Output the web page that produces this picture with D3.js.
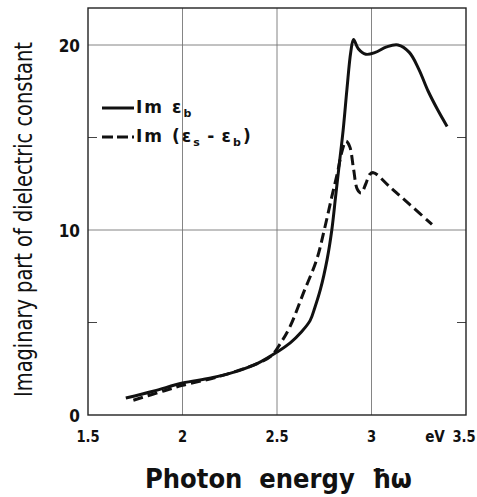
<!DOCTYPE html>
<html>
<head>
<meta charset="utf-8">
<script src="https://cdn.jsdelivr.net/npm/d3@7"></script>
<style>
  body { margin: 0; background: #fff; }
</style>
</head>
<body>
<div class="chart"></div>
<script>
// tick labels
let xTicks = [1.5, 2, 2.5, 3, 3.5]
let yTicks = [0, 10, 20]
let yMinor = [5, 15]
let xGrid = [2, 2.5, 3]
let yGrid = [10, 20]

// Im eps_b (solid)
let solidX = [1.70, 1.85, 2.0, 2.15, 2.3, 2.4, 2.5, 2.57, 2.63, 2.675, 2.70, 2.73, 2.765, 2.79, 2.81, 2.83, 2.85, 2.87, 2.89, 2.905, 2.93, 2.97, 3.02, 3.08, 3.14, 3.2, 3.25, 3.3, 3.35, 3.40]
let solidY = [0.92, 1.3, 1.73, 2.0, 2.4, 2.8, 3.4, 3.9, 4.5, 5.1, 5.8, 6.8, 8.4, 10, 11.8, 13.6, 15.4, 17.6, 19.6, 20.3, 19.8, 19.5, 19.6, 19.9, 20.0, 19.6, 18.7, 17.5, 16.5, 15.6]

// Im (eps_s - eps_b) (dashed)
let dashX = [1.74, 1.9, 2.0, 2.2, 2.4, 2.47, 2.52, 2.57, 2.64, 2.71, 2.75, 2.79, 2.82, 2.845, 2.865, 2.885, 2.905, 2.925, 2.945, 2.97, 2.99, 3.01, 3.1, 3.2, 3.32]
let dashY = [0.8, 1.3, 1.6, 2.1, 2.8, 3.2, 3.9, 4.8, 6.6, 8.4, 10, 11.8, 13.1, 14.3, 14.8, 14.5, 13.3, 12.2, 12.0, 12.5, 13.0, 13.1, 12.3, 11.4, 10.3]

const width = 477
const height = 497
const margin = { top: 8, right: 11, bottom: 82, left: 88 }

const x = d3.scaleLinear()
    .domain([1.5, 3.5])
    .range([margin.left, width - margin.right])

const y = d3.scaleLinear()
    .domain([0, 22])
    .range([height - margin.bottom, margin.top])

const svg = d3.select(".chart")
    .append("svg")
    .attr("width", width)
    .attr("height", height)

// grid lines
svg.append("g")
    .selectAll("line")
    .data(xGrid)
    .join("line")
    .attr("x1", d => x(d)).attr("x2", d => x(d))
    .attr("y1", y(22)).attr("y2", y(0))
    .attr("stroke", "#777")
    .attr("stroke-width", 0.9)

svg.append("g")
    .selectAll("line")
    .data(yGrid)
    .join("line")
    .attr("x1", x(1.5)).attr("x2", x(3.5))
    .attr("y1", d => y(d)).attr("y2", d => y(d))
    .attr("stroke", "#777")
    .attr("stroke-width", 0.9)

// minor ticks, inward on both sides
svg.append("g")
    .selectAll("line")
    .data(yMinor)
    .join("line")
    .attr("x1", x(1.5)).attr("x2", x(1.5) + 9)
    .attr("y1", d => y(d)).attr("y2", d => y(d))
    .attr("stroke", "#444")
svg.append("g")
    .selectAll("line")
    .data(yMinor)
    .join("line")
    .attr("x1", x(3.5) - 9).attr("x2", x(3.5))
    .attr("y1", d => y(d)).attr("y2", d => y(d))
    .attr("stroke", "#444")

// frame
svg.append("rect")
    .attr("x", x(1.5))
    .attr("y", y(22))
    .attr("width", x(3.5) - x(1.5))
    .attr("height", y(0) - y(22))
    .attr("fill", "none")
    .attr("stroke", "#222")
    .attr("stroke-width", 1.4)

// squeeze a text horizontally so it fits a given length
function squeeze(sel, len) {
    const w = sel.node().getComputedTextLength()
    return Math.min(1, len / w)
}

// tick labels (condensed look)
svg.append("g")
    .selectAll("text")
    .data(xTicks)
    .join("text")
    .attr("font-family", "DejaVu Sans")
    .attr("font-size", 16)
    .attr("font-weight", "bold")
    .attr("text-anchor", "middle")
    .attr("fill", "#111")
    .text(d => d)
    .attr("transform", d => `translate(${Math.min(x(d), 464)}, 442) scale(0.82, 1)`)

svg.append("text")
    .attr("transform", `translate(435, 442) scale(0.85, 1)`)
    .attr("text-anchor", "middle")
    .attr("font-family", "DejaVu Sans")
    .attr("font-size", 16)
    .attr("font-weight", "bold")
    .attr("fill", "#111")
    .text("eV")

svg.append("g")
    .selectAll("text")
    .data(yTicks)
    .join("text")
    .attr("transform", d => `translate(80, ${y(d) + 7}) scale(0.85, 1)`)
    .attr("text-anchor", "end")
    .attr("font-family", "DejaVu Sans")
    .attr("font-size", 18)
    .attr("font-weight", "bold")
    .attr("fill", "#111")
    .text(d => d)

// axis titles
const xTitle = svg.append("text")
    .attr("font-family", "DejaVu Sans")
    .attr("font-size", 26)
    .attr("font-weight", "bold")
    .attr("fill", "#111")
    .attr("xml:space", "preserve")
    .text("Photon  energy  ħω")
xTitle.attr("transform", `translate(145, 488) scale(${squeeze(xTitle, 267)}, 1)`)

const yTitle = svg.append("text")
    .attr("font-family", "DejaVu Sans")
    .attr("font-size", 25)
    .attr("fill", "#111")
    .text("Imaginary part of dielectric constant")
yTitle.attr("transform", `translate(32, 397) rotate(-90) scale(${squeeze(yTitle, 355)}, 1)`)

// curves
const line = d3.line()
    .x(d => x(d[0]))
    .y(d => y(d[1]))
    .curve(d3.curveCatmullRom.alpha(0.5))

svg.append("path")
    .datum(solidX.map((d, i) => [d, solidY[i]]))
    .attr("d", line)
    .attr("fill", "none")
    .attr("stroke", "#111")
    .attr("stroke-width", 3)

svg.append("path")
    .datum(dashX.map((d, i) => [d, dashY[i]]))
    .attr("d", line)
    .attr("fill", "none")
    .attr("stroke", "#111")
    .attr("stroke-width", 3)
    .attr("stroke-dasharray", "10,5")

// legend
const legend = svg.append("g")
    .attr("font-family", "DejaVu Sans")
    .attr("font-size", 17)
    .attr("font-weight", "bold")
    .attr("letter-spacing", 2)
    .attr("fill", "#111")

legend.append("line")
    .attr("x1", 102).attr("x2", 134)
    .attr("y1", 108).attr("y2", 108)
    .attr("stroke", "#111")
    .attr("stroke-width", 3)
legend.append("line")
    .attr("x1", 102).attr("x2", 134)
    .attr("y1", 137).attr("y2", 137)
    .attr("stroke", "#111")
    .attr("stroke-width", 3)
    .attr("stroke-dasharray", "11,4")

const t1 = legend.append("text").attr("x", 136).attr("y", 113)
t1.append("tspan").text("Im ε")
t1.append("tspan").attr("font-size", 11).attr("dy", 4).text("b")

const t2 = legend.append("text").attr("x", 136).attr("y", 142)
t2.append("tspan").text("Im (ε")
t2.append("tspan").attr("font-size", 11).attr("dy", 4).text("s")
t2.append("tspan").attr("dy", -4).text("\u2009-\u2009ε")
t2.append("tspan").attr("font-size", 11).attr("dy", 4).text("b")
t2.append("tspan").attr("dy", -4).text(")")
</script>
</body>
</html>
